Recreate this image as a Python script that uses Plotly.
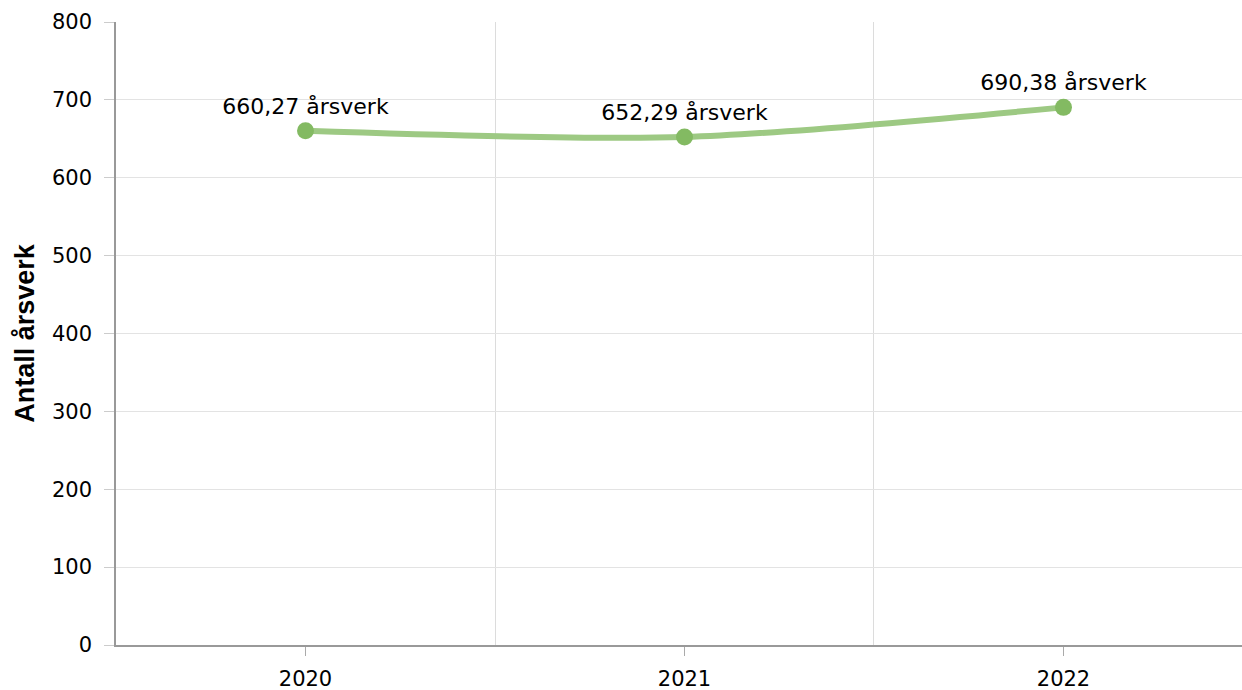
import plotly.graph_objects as go

years = [2020, 2021, 2022]
values = [660.27, 652.29, 690.38]
labels = ["660,27 årsverk", "652,29 årsverk", "690,38 årsverk"]
y_title = "Antall årsverk"

fig = go.Figure()
fig.add_trace(go.Scatter(
    x=years, y=values, mode="lines+markers+text",
    text=labels, textposition="top center",
    textfont=dict(family="DejaVu Sans", size=22, color="#000000"),
    line=dict(color="#9dc983", width=6, shape="spline", smoothing=0.8),
    marker=dict(color="#83ba62", size=17),
    cliponaxis=False, showlegend=False, hoverinfo="skip",
))

fig.update_layout(
    width=1242, height=690,
    margin=dict(l=116, r=0, t=22, b=45),
    paper_bgcolor="white", plot_bgcolor="white",
    font=dict(family="DejaVu Sans", size=21, color="#000000"),
)
fig.update_xaxes(
    automargin=False,
    range=[years[0] - 0.5, years[-1] + 0.471],
    tickmode="array", tickvals=years, ticktext=[str(y) for y in years],
    showgrid=False, zeroline=False,
    showline=True, linecolor="#999999", linewidth=1.5,
    ticks="outside", ticklen=9, tickcolor="#aaaaaa",
    ticklabelstandoff=5,
    minor=dict(tick0=years[0] - 0.5, dtick=1, showgrid=True, gridcolor="#dcdcdc", gridwidth=1),
    tickfont=dict(size=21),
)
fig.update_yaxes(
    automargin=False,
    range=[0, 800], dtick=100,
    showgrid=True, gridcolor="#e3e3e3", gridwidth=1, zeroline=False,
    showline=True, linecolor="#999999", linewidth=1.5,
    ticks="outside", ticklen=10, tickcolor="#cccccc",
    ticklabelstandoff=8,
    title=dict(text=y_title, font=dict(family="Liberation Sans", size=27, weight="bold"), standoff=10),
    tickfont=dict(size=21),
)
fig.write_html(
    "out.html",
    config={"displayModeBar": False},
    post_script="document.body.style.margin='0px';document.body.style.overflow='hidden';",
)
